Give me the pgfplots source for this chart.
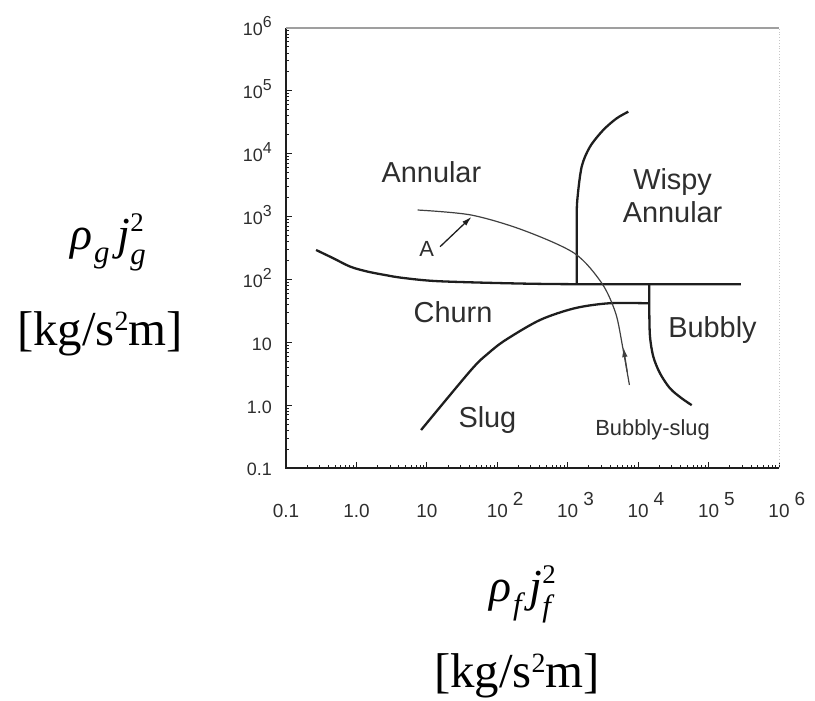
\documentclass[border=0pt]{standalone}
\usepackage{pgfplots}
\pgfplotsset{compat=1.18}
\usepackage{fontspec}
\setmainfont{Liberation Sans}
\newfontfamily\timesfont{Liberation Serif}
\usetikzlibrary{arrows.meta}

\definecolor{ink}{HTML}{1E1E1E}
\definecolor{txt}{HTML}{2E2E2E}
\newcommand\fs[1]{\fontsize{#1}{#1}\selectfont}
% superscripts of the x tick labels sit apart from the "10"
\newcommand\xpow[1]{10\rlap{\hspace{5bp}\raisebox{12bp}{#1}}}
\newcommand\ypow[1]{10\raisebox{8bp}{\fs{16}#1}}
% rho_k j_k^2 in Times-like italics
\newcommand\rhoj[1]{{\timesfont\fs{46}\itshape ρ\hspace{2bp}\raisebox{-13bp}{\fs{31}#1}\hspace{8bp}j\rlap{\raisebox{18bp}{\fs{27}\upshape 2}}\raisebox{-15bp}{\fs{31}#1}}}
\newcommand\units{{\timesfont\fs{49}[kg/s\raisebox{15bp}{\fs{28}2}m]}}

\begin{document}
\begin{tikzpicture}[x=1bp,y=1bp]
\path[use as bounding box] (0,0) rectangle (815,701);
\begin{axis}[
  at={(286bp,233bp)}, anchor=south west,
  width=493bp, height=440bp, scale only axis,
  xmode=log, ymode=log,
  xmin=0.1, xmax=1e6, ymin=0.1, ymax=1e6,
  axis line style={draw=none},
  tick pos=left, tick align=inside,
  major tick length=6bp, minor tick length=3.5bp,
  every tick/.style={ink, line width=0.9bp},
  xtick={0.1,1,10,100,1000,10000,100000,1000000},
  ytick={0.1,1,10,100,1000,10000,100000,1000000},
  xticklabels={0.1,1.0,10,\xpow{2},\xpow{3},\xpow{4},\xpow{5},\xpow{6}},
  yticklabels={0.1,1.0,10,\ypow{2},\ypow{3},\ypow{4},\ypow{5},\ypow{6}},
  xticklabel style={anchor=base, yshift=-50bp, font=\fs{19}, text=txt, inner sep=0pt},
  yticklabel style={anchor=base east, xshift=-14bp, yshift=-8bp, font=\fs{18}, text=txt, inner sep=0pt},
  clip=false,
]
% annular / churn boundary, running flat to the right
\addplot[ink, line width=2.3bp, smooth, tension=0.5] coordinates {
  (0.267,294) (0.47,217) (0.824,159) (1.445,133) (2.55,117.5) (4.47,106)
  (13.7,94) (131,87) (1245,84) (288000,84)};
% wispy annular boundary
\addplot[ink, line width=2.3bp, smooth, tension=0.5] coordinates {
  (1341,84) (1341,781) (1368,1834) (1578,6209) (2072,12920) (3199,23830)
  (4959,36560) (7248,46560)};
% slug / churn boundary
\addplot[ink, line width=2.3bp, smooth, tension=0.5] coordinates {
  (8.28,0.402) (42.4,3.62) (74.5,6.68) (131,10.87) (403,22.6) (1245,34.7)
  (3828,41.7) (14390,41.7)};
% bubbly boundary
\addplot[ink, line width=2.3bp, smooth, tension=0.5] coordinates {
  (14390,84) (14390,32.6) (14730,12.3) (16410,5.90) (20420,3.21)
  (28310,1.85) (41500,1.285) (57540,1.0)};
% thin transition path
\addplot[ink!85, line width=1.2bp, smooth, tension=0.5] coordinates {
  (7.41,1271) (42.4,1059) (229.6,611) (1245,260.6) (3055,86.7)
  (4800,28.9) (6012,8.51) (7516,2.09)};
\addplot[ink!85, line width=1.2bp, -{Latex[length=10bp,width=5.5bp]}] coordinates {
  (7000,3.4) (6150,8.4)};
% arrow from the label A
\addplot[ink, line width=1.3bp, -{Latex[length=10bp,width=5.5bp]}] coordinates {
  (15.4,331.6) (43.3,995)};

\node[anchor=base, font=\fs{29}, text=txt] at (axis cs:11.6,3420) {Annular};
\node[anchor=base, font=\fs{29}, text=txt] at (axis cs:30830,2648) {Wispy};
\node[anchor=base, font=\fs{29}, text=txt] at (axis cs:30830,811) {Annular};
\node[anchor=base, font=\fs{29}, text=txt] at (axis cs:23.5,20.3) {Churn};
\node[anchor=base, font=\fs{29}, text=txt] at (axis cs:113700,12.0) {Bubbly};
\node[anchor=base, font=\fs{29}, text=txt] at (axis cs:72.4,0.433) {Slug};
\node[anchor=base, font=\fs{22}, text=txt] at (axis cs:16000,0.323) {Bubbly-slug};
\node[anchor=base, font=\fs{22}, text=txt] at (axis cs:9.95,229.6) {A};

% frame: dark left and bottom, lighter top, faint dotted right
\draw[ink, line width=1.6bp] (rel axis cs:0,1) -- (rel axis cs:0,0) -- (rel axis cs:1,0);
\draw[gray!75, line width=1.1bp] (rel axis cs:0,1) -- (rel axis cs:1,1);
\draw[gray!45, line width=0.8bp, dotted] (rel axis cs:1,0) -- (rel axis cs:1,1);
\end{axis}

\node[anchor=base] at (108,451) {\rhoj{g}};
\node[anchor=base] at (100,355) {\units};
\node[anchor=base] at (520,99) {\rhoj{f}};
\node[anchor=base] at (517,13) {\units};
\end{tikzpicture}
\end{document}
